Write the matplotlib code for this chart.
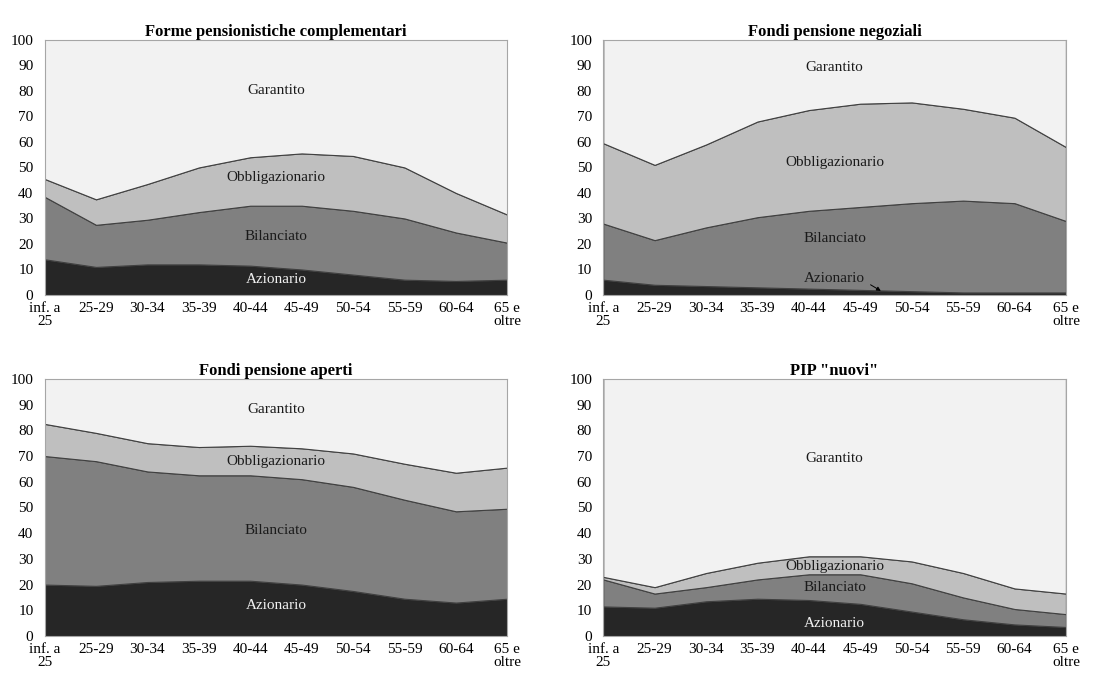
import numpy as np
import matplotlib
matplotlib.use("Agg")
import matplotlib.pyplot as plt

plt.rcParams['font.family'] = ['Liberation Serif', 'DejaVu Serif']

# Age classes
ages = ["inf. a\n25", "25-29", "30-34", "35-39", "40-44", "45-49",
        "50-54", "55-59", "60-64", "65 e\noltre"]

# Shares (%) by investment line; Garantito fills up to 100
fpc_azi = [14, 11, 12, 12, 11.5, 10, 8, 6, 5.5, 6]
fpc_bil = [24.5, 16.5, 17.5, 20.5, 23.5, 25, 25, 24, 19, 14.5]
fpc_obb = [7, 10, 14, 17.5, 19, 20.5, 21.5, 20, 15.5, 11]

neg_azi = [6, 4, 3.5, 3, 2.5, 2, 1.5, 1, 1, 1]
neg_bil = [22, 17.5, 23, 27.5, 30.5, 32.5, 34.5, 36, 35, 28]
neg_obb = [31.5, 29.5, 32.5, 37.5, 39.5, 40.5, 39.5, 36, 33.5, 29]

ape_azi = [20, 19.5, 21, 21.5, 21.5, 20, 17.5, 14.5, 13, 14.5]
ape_bil = [50, 48.5, 43, 41, 41, 41, 40.5, 38.5, 35.5, 35]
ape_obb = [12.5, 11, 11, 11, 11.5, 12, 13, 14, 15, 16]

pip_azi = [11.5, 11, 13.5, 14.5, 14, 12.5, 9.5, 6.5, 4.5, 3.5]
pip_bil = [10.5, 5.5, 5.5, 7.5, 10, 11.5, 11, 8.5, 6, 5]
pip_obb = [1, 2.5, 5.5, 6.5, 7, 7, 8.5, 9.5, 8, 8]

titles = ["Forme pensionistiche complementari", "Fondi pensione negoziali",
          "Fondi pensione aperti", 'PIP "nuovi"']
series = [(fpc_azi, fpc_bil, fpc_obb), (neg_azi, neg_bil, neg_obb),
          (ape_azi, ape_bil, ape_obb), (pip_azi, pip_bil, pip_obb)]
# label y-positions: Garantito, Obbligazionario, Bilanciato, Azionario
label_y = [(80, 46, 23, 6), (89, 52, 22, 6.5), (88, 68, 41, 12), (69, 27, 19, 5)]

colors = ["#262626", "#808080", "#bfbfbf", "#f2f2f2"]

fig = plt.figure(figsize=(11.15, 6.73), dpi=100)
boxes = [(0.040, 0.5617, 0.415, 0.379), (0.541, 0.5617, 0.415, 0.379),
         (0.040, 0.055, 0.415, 0.382), (0.541, 0.055, 0.415, 0.382)]

x = np.arange(len(ages))
for k in range(4):
    ax = fig.add_axes(boxes[k])
    azi, bil, obb = [np.array(s, dtype=float) for s in series[k]]
    gar = 100 - azi - bil - obb
    ax.stackplot(x, azi, bil, obb, gar, colors=colors,
                 edgecolor="#404040", linewidth=0.8)
    ax.set_xlim(0, 9)
    ax.set_ylim(0, 100)
    ax.set_yticks(range(0, 101, 10))
    ax.set_xticks(x)
    ax.set_xticklabels(ages, fontsize=11, linespacing=1.0)
    ax.tick_params(axis='y', length=0, labelsize=11, pad=8)
    ax.tick_params(axis='x', length=0, labelsize=11, pad=5)
    for s in ax.spines.values():
        s.set_color("#a6a6a6")
        s.set_linewidth(0.8)
    ax.set_title(titles[k], fontsize=12, fontweight='bold', pad=3)

    gy, oy, by, ay = label_y[k]
    ax.text(4.5, gy, "Garantito", ha='center', va='center', fontsize=11, color="#1a1a1a")
    ax.text(4.5, oy, "Obbligazionario", ha='center', va='center', fontsize=11, color="#1a1a1a")
    ax.text(4.5, by, "Bilanciato", ha='center', va='center', fontsize=11, color="#1a1a1a")
    if k == 1:
        ax.text(4.5, ay, "Azionario", ha='center', va='center', fontsize=11, color="#1a1a1a")
        ax.annotate("", xy=(5.4, 1.6), xytext=(5.2, 4.0),
                    arrowprops=dict(arrowstyle='-|>', color='black', lw=0.7,
                                    shrinkA=0, shrinkB=0, mutation_scale=6))
    else:
        ax.text(4.5, ay, "Azionario", ha='center', va='center', fontsize=11, color="#f2f2f2")

fig.savefig("out.png", dpi=100)
